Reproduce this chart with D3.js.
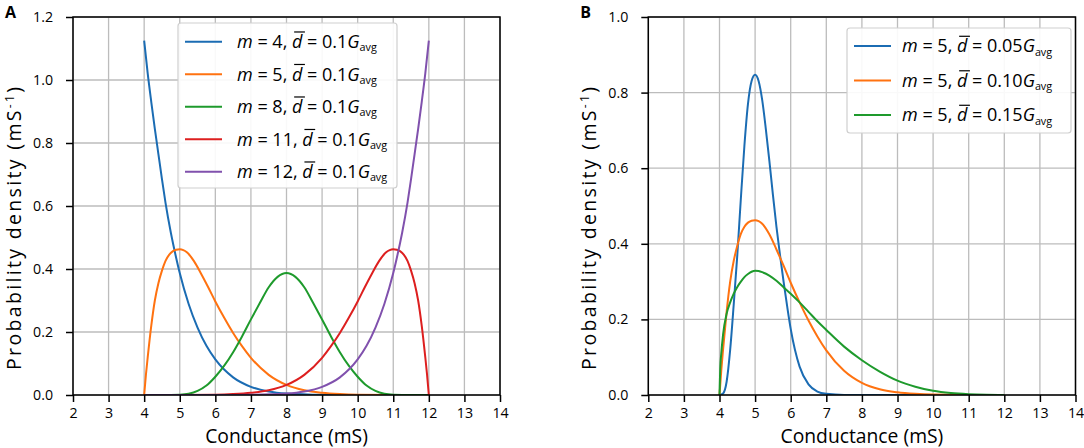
<!DOCTYPE html>
<html><head><meta charset="utf-8">
<script src="https://cdn.jsdelivr.net/npm/d3@7"></script>
<style>
body{margin:0;background:#fff}
svg{display:block}
text{font-family:'Open Sans',sans-serif;fill:#000}
</style>
</head><body>
<svg id="c" width="1084" height="448"></svg>
<script>
// ---------- data ----------
const xTicks = [2,3,4,5,6,7,8,9,10,11,12,13,14];
const yTicksA = [0,0.2,0.4,0.6,0.8,1.0,1.2];
const yTicksB = [0,0.2,0.4,0.6,0.8,1.0];

// Panel A
const aBlueX = [4,4.1,4.2,4.3,4.4,4.5,4.6,4.75,4.9,5,5.25,5.5,5.75,6,6.5,7,7.5,8,9,10,12];
const aBlueY = [1.125,1.02,0.93,0.845,0.765,0.685,0.61,0.515,0.435,0.387,0.289,0.214,0.156,0.113,0.056,0.026,0.011,0.0044,0.0004,0,0];
const aOrangeX = [4,4.05,4.1,4.2,4.3,4.4,4.5,4.6,4.7,4.8,4.9,5,5.1,5.2,5.4,5.6,5.8,6,6.25,6.5,6.75,7,7.5,8,8.5,9,9.5,10,11,12];
const aOrangeY = [0,0.065,0.12,0.22,0.3,0.355,0.395,0.426,0.445,0.456,0.461,0.4625,0.46,0.453,0.425,0.385,0.342,0.297,0.245,0.197,0.155,0.118,0.064,0.032,0.015,0.007,0.003,0.001,0,0];
const aGreenX = [4,4.5,5,5.25,5.5,5.75,6,6.25,6.5,6.75,7,7.25,7.5,7.75,8,8.25,8.5,8.75,9,9.25,9.5,9.75,10,10.25,10.5,10.75,11,11.5,12];
const aGreenY = [0,0,0.001,0.004,0.013,0.03,0.058,0.093,0.136,0.186,0.24,0.292,0.342,0.375,0.387,0.375,0.342,0.292,0.24,0.186,0.136,0.093,0.058,0.03,0.013,0.004,0.001,0,0];
const aRedX = [4,5,6,6.5,7,7.5,8,8.5,9,9.25,9.5,9.75,10,10.2,10.4,10.6,10.8,10.9,11,11.1,11.2,11.3,11.4,11.5,11.6,11.7,11.8,11.9,11.95,12];
const aRedY = [0,0,0.001,0.003,0.007,0.015,0.032,0.064,0.118,0.155,0.197,0.245,0.297,0.342,0.385,0.425,0.453,0.46,0.4625,0.461,0.456,0.445,0.426,0.395,0.355,0.3,0.22,0.12,0.065,0];
const aPurpleX = [4,6,7,8,8.5,9,9.5,10,10.25,10.5,10.75,11,11.1,11.25,11.4,11.5,11.6,11.7,11.8,11.9,12];
const aPurpleY = [0,0,0.0004,0.0044,0.011,0.026,0.056,0.113,0.156,0.214,0.289,0.387,0.435,0.515,0.61,0.685,0.765,0.845,0.93,1.02,1.125];
const aM = ['4','5','8','11','12'];
const aD = ['0.1','0.1','0.1','0.1','0.1'];

// Panel B
const bBlueX = [4,4.1,4.2,4.3,4.4,4.5,4.6,4.7,4.8,4.9,5,5.1,5.2,5.3,5.4,5.5,5.6,5.7,5.8,5.9,6,6.25,6.5,6.75,7,7.5,8,12];
const bBlueY = [0,0.004,0.035,0.12,0.24,0.37,0.52,0.66,0.77,0.83,0.847,0.83,0.78,0.705,0.62,0.53,0.445,0.37,0.3,0.235,0.175,0.075,0.028,0.009,0.003,0,0,0];
const bOrangeX = [4,4.05,4.1,4.2,4.3,4.4,4.5,4.6,4.7,4.8,4.9,5,5.1,5.2,5.4,5.6,5.8,6,6.25,6.5,6.75,7,7.5,8,8.5,9,9.5,10,11,12];
const bOrangeY = [0,0.065,0.12,0.22,0.3,0.355,0.395,0.426,0.445,0.456,0.461,0.4625,0.46,0.453,0.425,0.385,0.342,0.297,0.245,0.197,0.155,0.118,0.064,0.032,0.015,0.007,0.003,0.001,0,0];
const bGreenX = [4,4.02,4.05,4.1,4.2,4.3,4.4,4.5,4.6,4.7,4.8,4.9,5,5.1,5.2,5.4,5.6,5.8,6,6.25,6.5,6.75,7,7.5,8,8.5,9,9.5,10,10.5,11,11.5,12];
const bGreenY = [0,0.07,0.11,0.16,0.215,0.245,0.268,0.286,0.3,0.312,0.32,0.326,0.329,0.328,0.325,0.316,0.302,0.285,0.268,0.245,0.22,0.195,0.172,0.128,0.092,0.062,0.038,0.022,0.011,0.005,0.002,0.0005,0];
const bM = ['5','5','5'];
const bD = ['0.05','0.10','0.15'];

const colors = ['#1b6cb3','#ff7210','#1e9a2c','#dd1f1f','#8051ad'];

// ---------- drawing ----------
const svg = d3.select('#c');
const TOP = 17, BOTTOM = 395;

function drawPanel(cfg){
  const g = svg.append('g');
  const x = d3.scaleLinear().domain([2,14]).range([cfg.left, cfg.right]);
  const y = d3.scaleLinear().domain([0, cfg.ymax]).range([BOTTOM, TOP]);
  const clipId = 'clip' + cfg.name;
  svg.append('clipPath').attr('id', clipId).append('rect')
    .attr('x', cfg.left).attr('y', TOP).attr('width', cfg.right-cfg.left).attr('height', BOTTOM-TOP);

  // grid
  g.append('g').selectAll('line').data(xTicks).join('line')
    .attr('x1', d=>x(d)).attr('x2', d=>x(d)).attr('y1', TOP).attr('y2', BOTTOM)
    .attr('stroke','#bcbcbc').attr('stroke-width',1.3);
  g.append('g').selectAll('line').data(cfg.yTicks).join('line')
    .attr('y1', d=>y(d)).attr('y2', d=>y(d)).attr('x1', cfg.left).attr('x2', cfg.right)
    .attr('stroke','#bcbcbc').attr('stroke-width',1.3);

  // curves
  const line = d3.line().x(d=>x(d[0])).y(d=>y(d[1])).curve(d3.curveMonotoneX);
  const cg = g.append('g').attr('clip-path', `url(#${clipId})`);
  cfg.series.forEach((s,i)=>{
    const pts = s.x.map((v,j)=>[v, s.y[j]]);
    cg.append('path').attr('d', line(pts)).attr('fill','none')
      .attr('stroke', colors[i]).attr('stroke-width',2).attr('stroke-linejoin','round');
  });

  // axes
  const xa = g.append('g').attr('transform', `translate(0,${BOTTOM})`)
    .call(d3.axisBottom(x).tickValues(xTicks).tickSize(7).tickPadding(6).tickFormat(d3.format('d')));
  const ya = g.append('g').attr('transform', `translate(${cfg.left},0)`)
    .call(d3.axisLeft(y).tickValues(cfg.yTicks).tickSize(7).tickPadding(13).tickFormat(d3.format('.1f')));
  [xa, ya].forEach(a=>{
    a.select('.domain').remove();
    a.selectAll('line').attr('stroke','#000').attr('stroke-width',1.5);
    a.selectAll('text').attr('font-family',"'Open Sans',sans-serif").attr('font-size',14.2).attr('fill','#000');
  });
  g.append('rect').attr('x', cfg.left).attr('y', TOP).attr('width', cfg.right-cfg.left).attr('height', BOTTOM-TOP)
    .attr('fill','none').attr('stroke','#000').attr('stroke-width',1.5);

  // axis titles
  g.append('text').attr('x', (cfg.left+cfg.right)/2).attr('y', 443.3).attr('text-anchor','middle')
    .attr('font-size',19.3).text('Conductance (mS)');
  const yl = g.append('text').attr('transform', `translate(${cfg.left-52},228.5) rotate(-90)`)
    .attr('text-anchor','middle').attr('font-size',19.5)
    .attr('textLength',283).attr('lengthAdjust','spacing');
  yl.append('tspan').text('Probability density (mS');
  yl.append('tspan').attr('font-size',12).attr('dy',-7).text('-1');
  yl.append('tspan').attr('dy',7).text(')');

  // panel letter
  g.append('text').attr('x', cfg.left-68).attr('y', 18).attr('font-family',"'Liberation Sans',Arial,sans-serif")
    .attr('font-weight','bold').attr('font-size',16).text(cfg.name);

  // legend
  const L = cfg.legend;
  const lg = g.append('g');
  lg.append('rect').attr('x', L.x0).attr('y', L.y0).attr('width', L.x1-L.x0).attr('height', L.y1-L.y0)
    .attr('rx',3).attr('fill','#fff').attr('fill-opacity',0.9).attr('stroke','#cfcfcf').attr('stroke-width',1.2);
  cfg.m.forEach((mv,i)=>{
    const ry = L.row0 + i*L.step;
    lg.append('line').attr('x1', L.x0+7).attr('x2', L.x0+44).attr('y1', ry).attr('y2', ry)
      .attr('stroke', colors[i]).attr('stroke-width',2);
    const fs = L.fs;
    const t = lg.append('text').attr('x', L.tx).attr('y', ry + 0.36*fs).attr('font-size', fs);
    t.append('tspan').attr('font-style','italic').text('m');
    const mid = ' = ' + mv + ', ';
    t.append('tspan').text(mid);
    t.append('tspan').attr('font-style','italic').text('d');
    t.append('tspan').text(' = ' + cfg.d[i]);
    t.append('tspan').attr('font-style','italic').text('G');
    t.append('tspan').attr('font-size', fs*0.6).attr('dy', 0.18*fs).text('avg');
    const idx = 1 + mid.length;
    const ext = t.node().getExtentOfChar(idx);
    const oy = ry + 0.36*fs - 0.9*fs;
    lg.append('line').attr('x1', ext.x + 0.12*fs).attr('x2', ext.x + ext.width + 0.14*fs)
      .attr('y1', oy).attr('y2', oy).attr('stroke','#000').attr('stroke-width',1.2);
  });
}

drawPanel({name:'A', left:73, right:500, ymax:1.2, yTicks:yTicksA,
  series:[{x:aBlueX,y:aBlueY},{x:aOrangeX,y:aOrangeY},{x:aGreenX,y:aGreenY},{x:aRedX,y:aRedY},{x:aPurpleX,y:aPurpleY}],
  m:aM, d:aD,
  legend:{x0:178, x1:397, y0:23, y1:188, row0:41.7, step:32.5, tx:237, fs:18}});

drawPanel({name:'B', left:648.3, right:1075.5, ymax:1.0, yTicks:yTicksB,
  series:[{x:bBlueX,y:bBlueY},{x:bOrangeX,y:bOrangeY},{x:bGreenX,y:bGreenY}],
  m:bM, d:bD,
  legend:{x0:847, x1:1071, y0:28, y1:133, row0:46, step:34.5, tx:902, fs:18}});
</script>
</body></html>
